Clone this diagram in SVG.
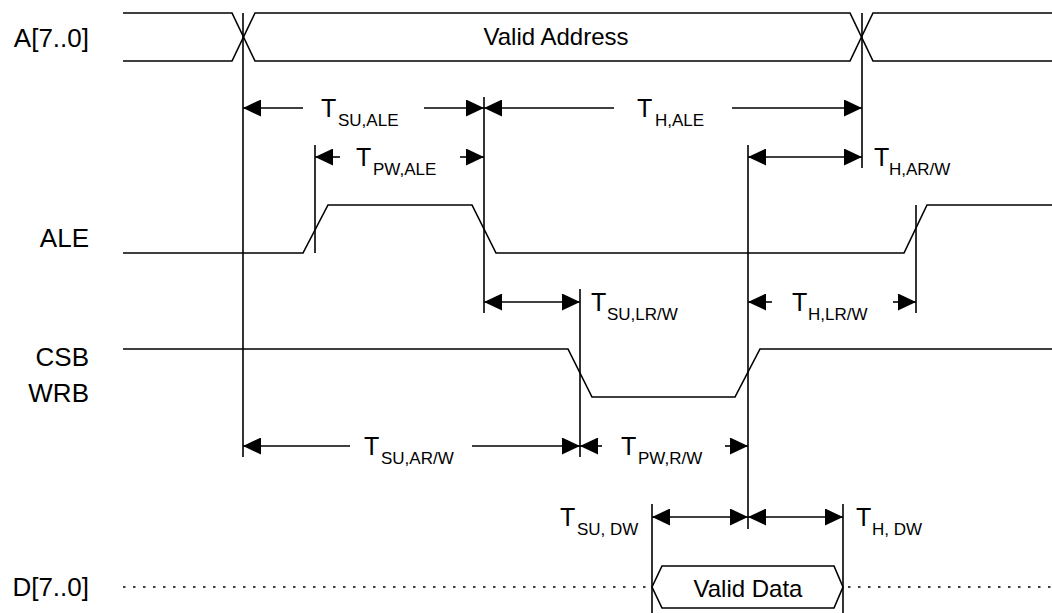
<svg xmlns="http://www.w3.org/2000/svg" width="1052" height="613" viewBox="0 0 1052 613">
<style>
  text { font-family: "Liberation Sans", Arial, Helvetica, sans-serif; fill: #000; }
  .lbl { font-size: 26px; text-anchor: end; }
  .val { font-size: 24px; text-anchor: middle; }
  .t { font-size: 25px; }
  .s { font-size: 17px; }
  .sig { fill: none; stroke: #000; stroke-width: 1.6; stroke-linejoin: miter; }
  .ref { stroke: #000; stroke-width: 1.6; fill: none; }
  .dim { stroke: #000; stroke-width: 1.6; fill: none; }
  .dot { stroke: #000; stroke-width: 1.5; stroke-dasharray: 2.5 7.5; fill: none; }
  .end { marker-end: url(#ah); }
  .both { marker-start: url(#ah); marker-end: url(#ah); }
</style>
<defs>
  <marker id="ah" viewBox="0 0 18 17" refX="18" refY="8.5" markerWidth="18" markerHeight="17" markerUnits="userSpaceOnUse" orient="auto-start-reverse">
    <path d="M0,0 L18,8.5 L0,17 z" fill="#000"/>
  </marker>
</defs>
<rect width="1052" height="613" fill="#fff"/>

<g id="signal-labels">
  <text class="lbl" x="89" y="47">A[7..0]</text>
  <text class="lbl" x="89" y="247">ALE</text>
  <text class="lbl" x="89" y="366">CSB</text>
  <text class="lbl" x="89" y="402">WRB</text>
  <text class="lbl" x="89" y="596">D[7..0]</text>
</g>

<g id="signal-A">
  <path class="sig" d="M123,13 L232,13 L255,61 L850,61 L873,13 L1052,13"/>
  <path class="sig" d="M123,61 L232,61 L255,13 L850,13 L873,61 L1052,61"/>
  <text class="val" x="556" y="45">Valid Address</text>
</g>

<g id="signal-ALE">
  <path class="sig" d="M123,253 L303,253 L328,205 L472,205 L496,253 L904,253 L927,205 L1052,205"/>
</g>

<g id="signal-CSB-WRB">
  <path class="sig" d="M123,349 L568,349 L592,397 L735,397 L760,349 L1052,349"/>
</g>

<g id="signal-D">
  <line class="dot" x1="123" y1="587" x2="652" y2="587"/>
  <line class="dot" x1="848" y1="587" x2="1052" y2="587"/>
  <path class="sig" d="M652,587 L662,566 L834,566 L843,587 L834,608 L662,608 Z"/>
  <text class="val" x="748" y="597">Valid Data</text>
</g>

<g id="reference-lines">
  <line class="ref" x1="243" y1="13" x2="243" y2="457"/>
  <line class="ref" x1="315" y1="145" x2="315" y2="253"/>
  <line class="ref" x1="484" y1="97" x2="484" y2="313"/>
  <line class="ref" x1="862" y1="13" x2="862" y2="168"/>
  <line class="ref" x1="748" y1="145" x2="748" y2="529"/>
  <line class="ref" x1="580" y1="289" x2="580" y2="457"/>
  <line class="ref" x1="916" y1="205" x2="916" y2="313"/>
  <line class="ref" x1="652" y1="504" x2="652" y2="613"/>
  <line class="ref" x1="843" y1="504" x2="843" y2="613"/>
</g>

<g id="connectors">
  <!-- T SU,ALE -->
  <line class="dim end" x1="303" y1="108" x2="243" y2="108"/>
  <line class="dim end" x1="424" y1="108" x2="484" y2="108"/>
  <!-- T H,ALE -->
  <line class="dim end" x1="614" y1="108" x2="484" y2="108"/>
  <line class="dim end" x1="732" y1="108" x2="862" y2="108"/>
  <!-- T PW,ALE -->
  <line class="dim end" x1="340" y1="157" x2="315" y2="157"/>
  <line class="dim end" x1="460" y1="157" x2="484" y2="157"/>
  <!-- T H,AR/W -->
  <line class="dim both" x1="748" y1="157" x2="862" y2="157"/>
  <!-- T SU,LR/W -->
  <line class="dim both" x1="484" y1="302" x2="580" y2="302"/>
  <!-- T H,LR/W -->
  <line class="dim end" x1="772" y1="302" x2="748" y2="302"/>
  <line class="dim end" x1="893" y1="302" x2="916" y2="302"/>
  <!-- T SU,AR/W -->
  <line class="dim end" x1="350" y1="446" x2="243" y2="446"/>
  <line class="dim end" x1="472" y1="446" x2="580" y2="446"/>
  <!-- T PW,R/W -->
  <line class="dim end" x1="602" y1="446" x2="580" y2="446"/>
  <line class="dim end" x1="725" y1="446" x2="748" y2="446"/>
  <!-- T SU,DW / T H,DW -->
  <line class="dim both" x1="652" y1="517" x2="748" y2="517"/>
  <line class="dim both" x1="748" y1="517" x2="843" y2="517"/>
</g>

<g id="timing-labels">
  <text class="t" x="321" y="117">T<tspan class="s" x="338" y="126">SU,ALE</tspan></text>
  <text class="t" x="637" y="117">T<tspan class="s" x="655" y="126">H,ALE</tspan></text>
  <text class="t" x="356" y="166">T<tspan class="s" x="373" y="175">PW,ALE</tspan></text>
  <text class="t" x="874" y="166">T<tspan class="s" x="889" y="175">H,AR/W</tspan></text>
  <text class="t" x="591" y="311">T<tspan class="s" x="607" y="320">SU,LR/W</tspan></text>
  <text class="t" x="792" y="311">T<tspan class="s" x="808" y="320">H,LR/W</tspan></text>
  <text class="t" x="364" y="455">T<tspan class="s" x="381" y="464">SU,AR/W</tspan></text>
  <text class="t" x="621" y="455">T<tspan class="s" x="638" y="464">PW,R/W</tspan></text>
  <text class="t" x="560" y="526">T<tspan class="s" x="577" y="535">SU, DW</tspan></text>
  <text class="t" x="856" y="526">T<tspan class="s" x="872" y="535">H, DW</tspan></text>
</g>
</svg>
